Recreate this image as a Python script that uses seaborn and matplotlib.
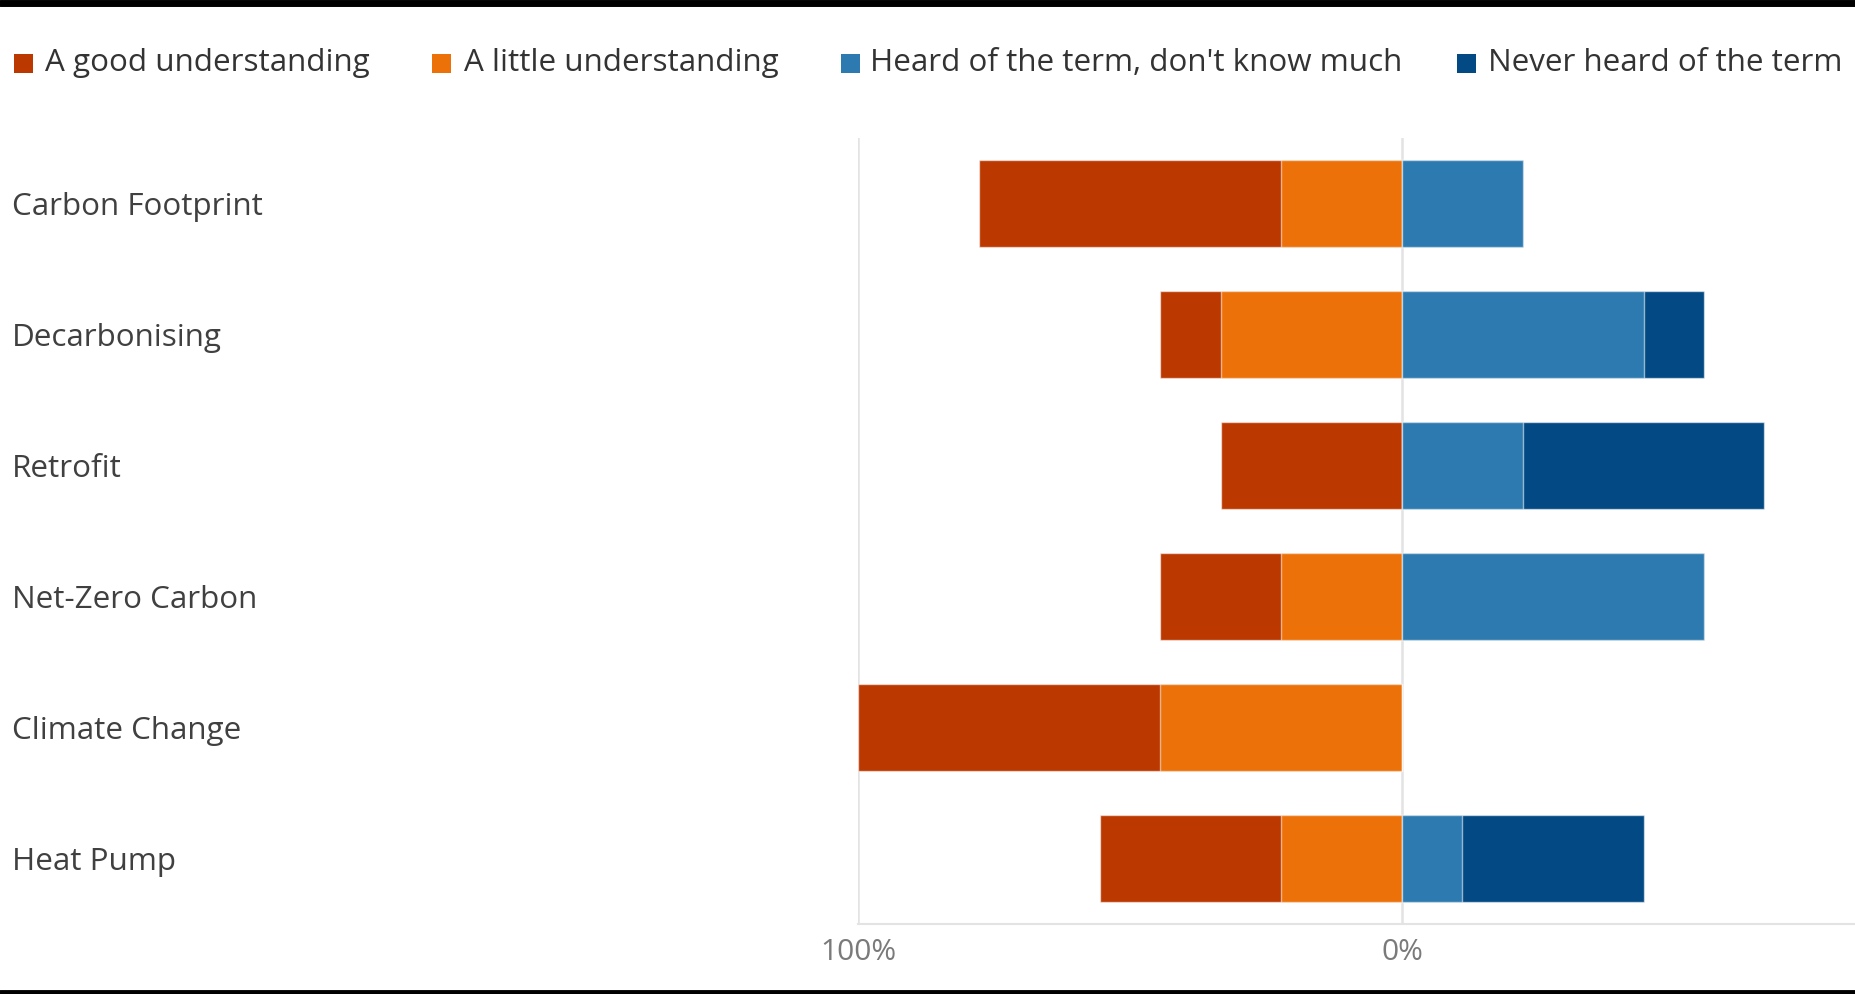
import matplotlib
matplotlib.use("Agg")
import matplotlib.pyplot as plt
import seaborn as sns
import numpy as np
import pandas as pd
from matplotlib.patches import Rectangle
from matplotlib.lines import Line2D

terms = ["Carbon Footprint", "Decarbonising", "Retrofit", "Net-Zero Carbon", "Climate Change", "Heat Pump"]
series = ["A good understanding", "A little understanding", "Heard of the term, don't know much", "Never heard of the term"]
good = [55.6, 11.1, 33.3, 22.2, 55.6, 33.3]
little = [22.2, 33.3, 0.0, 22.2, 44.4, 22.2]
heard = [22.2, 44.4, 22.2, 55.6, 0.0, 11.1]
never = [0.0, 11.1, 44.4, 0.0, 0.0, 33.3]
colors = ["#BB3900", "#EC7108", "#2C7AB0", "#034983"]
tick_vals = [-100, 0]
tick_labels = ["100%", "0%"]

sns.set_theme(style="white")
plt.rcParams["font.family"] = ["Open Sans", "DejaVu Sans"]

W, H = 1855, 994
fig = plt.figure(figsize=(W / 100, H / 100), dpi=100)
ax = fig.add_axes([858 / W, 1 - 924 / H, 1 - 858 / W, (924 - 138) / H])

df = pd.DataFrame({"term": terms, "good": good, "little": little, "heard": heard, "never": never})
df["left_outer"] = -(df["good"] + df["little"])
df["left_inner"] = -df["little"]
df["right_outer"] = df["heard"] + df["never"]
df["right_inner"] = df["heard"]

kw = dict(orient="h", width=0.66, saturation=1, edgecolor=(1, 1, 1, 0.55), linewidth=1.0, ax=ax, order=terms)
sns.barplot(data=df, x="left_outer", y="term", color=colors[0], **kw)
sns.barplot(data=df, x="left_inner", y="term", color=colors[1], **kw)
sns.barplot(data=df, x="right_outer", y="term", color=colors[3], **kw)
sns.barplot(data=df, x="right_inner", y="term", color=colors[2], **kw)

ax.set_xlim(-100, (W - 1402) / 5.44)
ax.set_ylim(len(terms) - 0.5, -0.5)
ax.set_xticks(tick_vals)
ax.set_xticklabels(tick_labels, fontsize=21.5, color="#7a7a7a")
ax.tick_params(axis="x", length=0, pad=10)
ax.set_xlabel("")
ax.set_ylabel("")
for s in ["top", "right", "left"]:
    ax.spines[s].set_visible(False)
ax.spines["bottom"].set_color("#e3e3e3")
ax.spines["bottom"].set_linewidth(1.5)
for v in tick_vals:
    ax.axvline(v, color="#e3e3e3", lw=1.8, zorder=0)
ax.set_axisbelow(True)

ax.tick_params(axis="y", length=0, pad=(858 - 12) * 72 / 100)
for lab in ax.get_yticklabels():
    lab.set_horizontalalignment("left")
    lab.set_fontsize(22.6)
    lab.set_color("#404040")

# legend
sq_x = [14, 432, 841, 1457]
tx_x = [45, 464, 870, 1488]
ly = 63
for c, name, sx, tx in zip(colors, series, sq_x, tx_x):
    fig.patches.append(Rectangle((sx / W, 1 - (ly + 9.5) / H), 19 / W, 19 / H,
                                 transform=fig.transFigure, facecolor=c, edgecolor="none"))
    fig.text(tx / W, 1 - ly / H, name, ha="left", va="center", fontsize=22.6, color="#333333")

# black frame lines top and bottom
fig.add_artist(Line2D([0, 1], [1 - 3 / H, 1 - 3 / H], transform=fig.transFigure, color="black", lw=5))
fig.add_artist(Line2D([0, 1], [2 / H, 2 / H], transform=fig.transFigure, color="black", lw=3.5))

fig.savefig("out.png", dpi=100)
